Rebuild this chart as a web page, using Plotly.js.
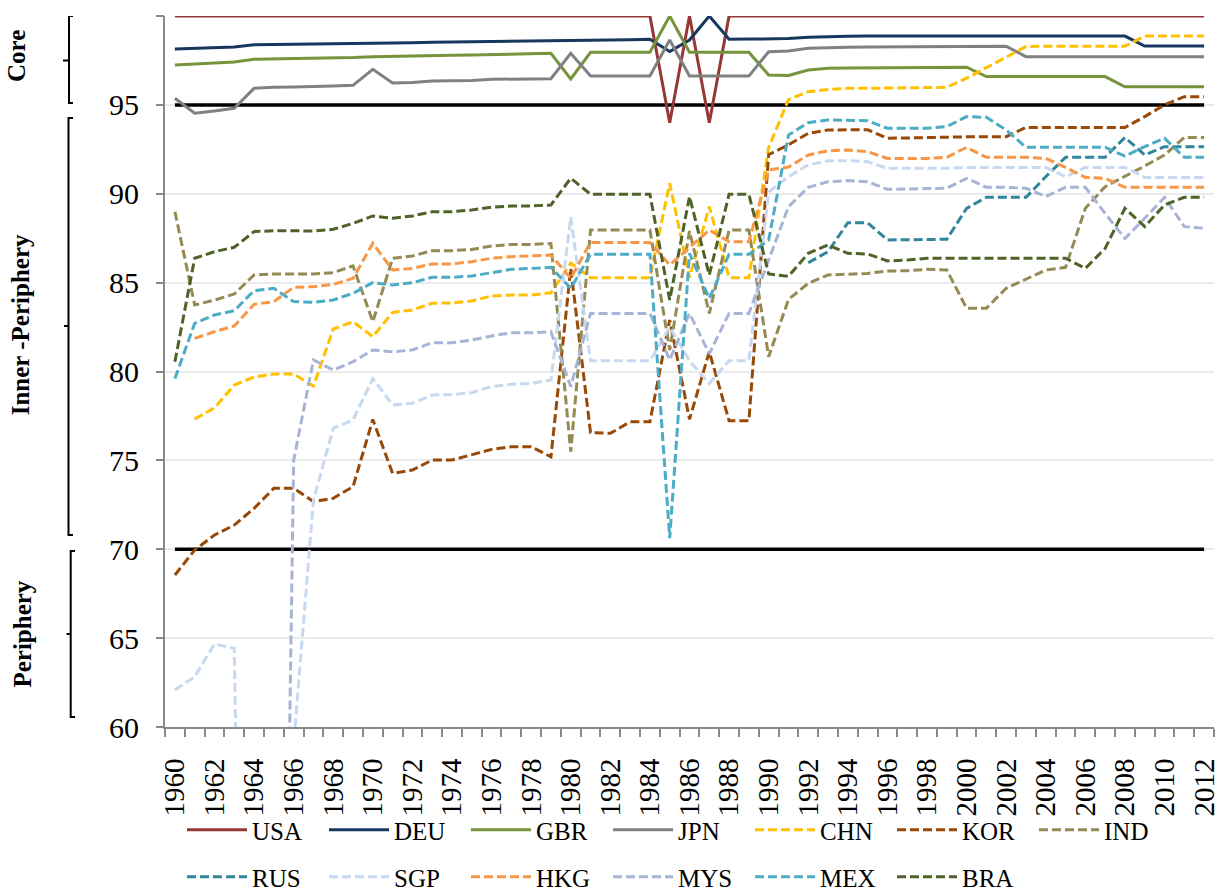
<!DOCTYPE html>
<html>
<head>
<meta charset="utf-8">
<script src="https://cdn.plot.ly/plotly-3.0.1.min.js"></script>
<style>html,body{margin:0;padding:0;background:#fff;}#chart{width:1217px;height:892px;}</style>
</head>
<body>
<div id="chart"></div>
<script>
const years = [];
for (let y = 1960; y <= 2012; y++) years.push(y);

const tickYears = [1960,1962,1964,1966,1968,1970,1972,1974,1976,1978,1980,1982,1984,1986,1988,1990,1992,1994,1996,1998,2000,2002,2004,2006,2008,2010,2012];

const coreThreshold = 95;
const peripheryThreshold = 70;

const USA = [100,100,100,100,100,100,100,100,100,100,100,100,100,100,100,100,100,100,100,100,100,100,100,100,100,94,100,94,100,100,100,100,100,100,100,100,100,100,100,100,100,100,100,100,100,100,100,100,100,100,100,100,100];
const DEU = [98.14,98.18,98.22,98.25,98.38,98.4,98.41,98.42,98.43,98.45,98.48,98.48,98.5,98.52,98.53,98.54,98.55,98.56,98.57,98.58,98.6,98.63,98.65,98.67,98.69,98.0,98.65,100,98.69,98.7,98.71,98.73,98.8,98.84,98.86,98.87,98.87,98.88,98.88,98.88,98.88,98.88,98.88,98.88,98.88,98.88,98.88,98.88,98.87,98.31,98.31,98.31,98.31];
const GBR = [97.24,97.29,97.35,97.41,97.56,97.58,97.59,97.6,97.62,97.66,97.71,97.72,97.74,97.77,97.79,97.81,97.84,97.86,97.88,97.9,96.46,97.96,97.96,97.96,97.96,100,97.96,97.96,97.96,97.96,96.68,96.65,96.96,97.06,97.08,97.08,97.09,97.1,97.11,97.11,97.12,96.59,96.59,96.59,96.59,96.59,96.59,96.59,96.02,96.02,96.02,96.02,96.02];
const JPN = [95.37,94.53,94.66,94.81,95.93,95.99,96.0,96.01,96.06,96.1,97.0,96.23,96.26,96.34,96.35,96.37,96.44,96.45,96.46,96.47,97.9,96.62,96.62,96.62,96.62,98.65,96.62,96.62,96.62,96.62,97.99,98.03,98.18,98.22,98.24,98.25,98.26,98.27,98.28,98.28,98.29,98.3,98.3,97.71,97.71,97.71,97.71,97.71,97.71,97.71,97.71,97.71,97.71];
const CHN = [null,77.33,77.95,79.24,79.69,79.86,79.86,79.18,82.39,82.8,81.96,83.33,83.46,83.84,83.86,83.97,84.25,84.3,84.3,84.43,86.1,85.28,85.28,85.28,85.28,90.59,85.28,89.27,85.28,85.28,92.6,95.3,95.74,95.87,95.93,95.93,95.95,95.96,95.97,95.99,96.5,97.09,97.71,98.28,98.3,98.3,98.3,98.3,98.3,98.87,98.87,98.87,98.87];
const KOR = [68.55,69.96,70.8,71.36,72.3,73.43,73.43,72.68,72.87,73.52,77.3,74.27,74.46,75.02,75.02,75.3,75.62,75.77,75.77,75.2,85.8,76.56,76.52,77.17,77.17,82.9,77.31,81.11,77.23,77.23,92.2,92.75,93.4,93.59,93.6,93.6,93.12,93.15,93.15,93.17,93.2,93.21,93.21,93.73,93.73,93.73,93.73,93.73,93.73,94.34,95.0,95.46,95.46];
const IND = [88.99,83.74,84.02,84.36,85.43,85.49,85.49,85.49,85.56,85.94,82.8,86.37,86.5,86.8,86.8,86.87,87.06,87.15,87.15,87.2,75.49,87.96,87.96,87.96,87.96,81.21,87.9,83.27,87.96,87.96,80.83,84.05,84.96,85.43,85.49,85.52,85.65,85.67,85.75,85.71,83.56,83.56,84.68,85.19,85.71,85.86,89.18,90.4,90.96,91.56,92.18,93.17,93.17];
const RUS = [null,null,null,null,null,null,null,null,null,null,null,null,null,null,null,null,null,null,null,null,null,null,null,null,null,null,null,null,null,null,null,null,86.12,86.74,88.37,88.37,87.4,87.4,87.4,87.44,89.18,89.8,89.8,89.8,90.96,92.05,92.05,92.05,93.17,92.18,92.65,92.65,92.65];
const SGP = [62.08,62.83,64.67,64.43,0,0,59,72.77,76.8,77.27,79.6,78.12,78.21,78.68,78.7,78.81,79.15,79.28,79.33,79.52,88.7,80.61,80.61,80.61,80.61,82.5,80.6,79.33,80.61,80.61,90.1,90.96,91.62,91.86,91.86,91.8,91.43,91.43,91.43,91.43,91.48,91.48,91.48,91.48,91.48,90.96,91.48,91.48,91.48,90.92,90.92,90.92,90.92];
const HKG = [null,81.86,82.24,82.56,83.78,83.93,84.74,84.77,84.9,85.24,87.21,85.71,85.8,86.05,86.05,86.18,86.37,86.46,86.5,86.55,85.24,87.26,87.26,87.26,87.26,85.99,87.0,87.96,87.3,87.3,91.34,91.5,92.18,92.42,92.46,92.37,91.99,91.99,91.99,92.05,92.61,92.05,92.05,92.05,91.99,91.48,90.92,90.87,90.36,90.36,90.36,90.36,90.36];
const MYS = [0,0,0,0,0,0,75.0,80.65,80.08,80.55,81.21,81.11,81.21,81.62,81.62,81.77,82.0,82.18,82.18,82.24,79.15,83.27,83.27,83.27,83.27,80.65,83.27,81.0,83.27,83.27,86.3,89.27,90.36,90.68,90.74,90.68,90.25,90.25,90.29,90.31,90.87,90.36,90.36,90.31,89.84,90.36,90.36,88.89,87.48,88.62,89.8,88.15,88.06];
const MEX = [79.6,82.71,83.18,83.42,84.55,84.68,83.93,83.89,84.02,84.4,85.0,84.87,85.0,85.3,85.3,85.37,85.56,85.75,85.8,85.86,84.68,86.59,86.59,86.59,86.59,70.62,86.65,84.11,86.59,86.59,87.4,93.3,94.0,94.15,94.15,94.11,93.68,93.68,93.68,93.78,94.34,94.3,93.59,92.61,92.61,92.61,92.61,92.61,92.12,92.65,93.12,92.05,92.05];
const BRA = [80.55,86.37,86.74,86.99,87.87,87.92,87.92,87.9,88.0,88.33,88.75,88.62,88.75,88.99,88.99,89.09,89.24,89.31,89.31,89.37,90.87,89.97,89.97,89.97,89.97,84.02,89.84,85.43,89.97,89.97,85.49,85.35,86.65,87.12,86.65,86.61,86.22,86.27,86.37,86.37,86.37,86.37,86.37,86.37,86.37,86.37,85.8,86.93,89.18,88.15,89.37,89.8,89.8];

const seriesNames = ['USA','DEU','GBR','JPN','CHN','KOR','IND','RUS','SGP','HKG','MYS','MEX','BRA'];
const seriesValues = [USA,DEU,GBR,JPN,CHN,KOR,IND,RUS,SGP,HKG,MYS,MEX,BRA];
const seriesColors = ['#953735','#17375E','#77933C','#808080','#FFC000','#984807','#948A54','#31859C','#C6D9F1','#F79646','#A7B4D5','#4BACC6','#4F6228'];
const seriesDashed = [false,false,false,false,true,true,true,true,true,true,true,true,true];

const FONT = '"Liberation Serif", "Times New Roman", serif';

const traces = [];
traces.push({x: years, y: years.map(() => coreThreshold), mode:'lines', line:{color:'#000', width:3.5}, showlegend:false, hoverinfo:'skip'});
traces.push({x: years, y: years.map(() => peripheryThreshold), mode:'lines', line:{color:'#000', width:3.5}, showlegend:false, hoverinfo:'skip'});
seriesNames.forEach((n, i) => {
  traces.push({
    x: years, y: seriesValues[i], name: n, mode: 'lines',
    connectgaps: false, cliponaxis: !(i < 4),
    line: {color: seriesColors[i], width: 3, dash: seriesDashed[i] ? '9px,4px' : 'solid'},
    legend: i < 7 ? 'legend' : 'legend2'
  });
});
traces.push({x: [years[0]], y: [null], yaxis: 'y2', showlegend: false, hoverinfo: 'skip', mode: 'lines'});

const L = 165, R = 3, T = 16, B = 165, W = 1217, H = 892;
const pw = W - L - R;
const px = v => (v - L) / pw;

function bracket(xv, xs, xt, yTop, yBot, yMid) {
  return {type:'path', xref:'paper', yref:'y', layer:'above',
    path: `M ${px(xs)},${yTop} L ${px(xv)},${yTop} L ${px(xv)},${yBot} L ${px(xs)},${yBot} M ${px(xv)},${yMid} L ${px(xt)},${yMid}`,
    line:{color:'#000', width:2}};
}

const legendCommon = {orientation: 'h', xref: 'container', yref: 'container', xanchor: 'left', yanchor: 'middle',
  font: {family: FONT, size: 25, color: '#000'}, entrywidth: 67, entrywidthmode: 'pixels', itemwidth: 60,
  bgcolor: 'rgba(0,0,0,0)', borderwidth: 0};

const layout = {
  width: W, height: H,
  margin: {l: L, r: R, t: T, b: B, pad: 0, autoexpand: false},
  paper_bgcolor: '#fff', plot_bgcolor: '#fff',
  font: {family: FONT, color: '#000', size: 28},
  xaxis: {
    range: [1959.5, 2012.5], tickmode: 'array', tickvals: tickYears, ticktext: tickYears.map(String),
    tickangle: -90, ticks: 'outside', ticklen: 18, tickcolor: 'rgba(0,0,0,0)', ticklabeloverflow: 'allow',
    tickfont: {family: FONT, size: 29, color: '#000'},
    showline: true, linecolor: '#898989', linewidth: 2, showgrid: false, zeroline: false,
    minor: {tickmode: 'array', tickvals: years.map(y => y - 0.5).concat([2012.5]), ticks: 'outside', ticklen: 8, tickcolor: '#898989', tickwidth: 2, showgrid: false}
  },
  yaxis: {
    range: [60, 100], tickmode: 'linear', tick0: 60, dtick: 5,
    ticks: 'outside', ticklen: 18, tickcolor: 'rgba(0,0,0,0)',
    tickfont: {family: FONT, size: 30, color: '#000'},
    showline: true, linecolor: '#898989', linewidth: 2,
    showgrid: true, gridcolor: '#EBEBEB', gridwidth: 2, zeroline: false
  },
  yaxis2: {
    overlaying: 'y', side: 'left', range: [60, 100], tickmode: 'linear', tick0: 60, dtick: 5,
    ticks: 'outside', ticklen: 8, tickcolor: '#898989', tickwidth: 2, showticklabels: false,
    showgrid: false, zeroline: false, showline: false
  },
  legend: Object.assign({}, legendCommon, {x: 182/W, y: 1 - 830/H}),
  legend2: Object.assign({}, legendCommon, {x: 182/W, y: 1 - 877/H}),
  shapes: [
    bracket(69, 73, 63, 100, 95.1, 97.5),
    bracket(68.5, 73, 64, 94.26, 70.8, 82.56),
    bracket(70.7, 75, 66.5, 69.9, 60.56, 65.23)
  ],
  annotations: [
    {text: '<b>Core</b>', xref:'paper', yref:'y', x: px(17), y: 97.75, textangle: -90, showarrow:false, xanchor:'center', yanchor:'middle', font:{family: FONT, size: 25, color:'#000'}},
    {text: '<b>Inner -Periphery</b>', xref:'paper', yref:'y', x: px(20), y: 82.6, textangle: -90, showarrow:false, xanchor:'center', yanchor:'middle', font:{family: FONT, size: 25, color:'#000'}},
    {text: '<b>Periphery</b>', xref:'paper', yref:'y', x: px(23), y: 65.2, textangle: -90, showarrow:false, xanchor:'center', yanchor:'middle', font:{family: FONT, size: 25, color:'#000'}}
  ],
  showlegend: true
};

Plotly.newPlot('chart', traces, layout, {displayModeBar: false, staticPlot: true});
</script>
</body>
</html>
